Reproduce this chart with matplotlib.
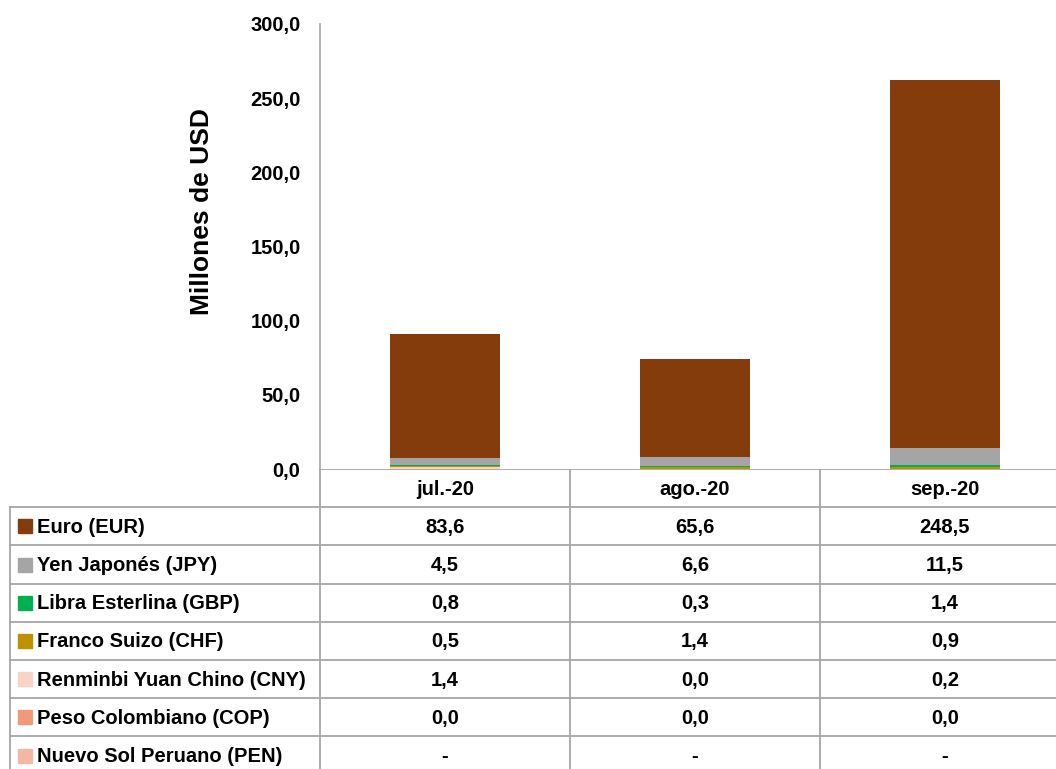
import matplotlib
matplotlib.use("Agg")
import matplotlib.pyplot as plt
from matplotlib.patches import Rectangle

plt.rcParams['font.family'] = ['Liberation Sans', 'DejaVu Sans']
plt.rcParams['font.weight'] = 'bold'

months = ['jul.-20', 'ago.-20', 'sep.-20']
series = ['Euro (EUR)', 'Yen Japonés (JPY)', 'Libra Esterlina (GBP)', 'Franco Suizo (CHF)',
          'Renminbi Yuan Chino (CNY)', 'Peso Colombiano (COP)', 'Nuevo Sol Peruano (PEN)']
eur = [83.6, 65.6, 248.5]
jpy = [4.5, 6.6, 11.5]
gbp = [0.8, 0.3, 1.4]
chf = [0.5, 1.4, 0.9]
cny = [1.4, 0.0, 0.2]
cop = [0.0, 0.0, 0.0]
pen = [None, None, None]
colors = ['#843C0C', '#A5A5A5', '#00B050', '#BF9000', '#F8D3C6', '#F19A78', '#F4B8A2']

values = [eur, jpy, gbp, chf, cny, cop, pen]

W, H = 1056, 769
fig = plt.figure(figsize=(W / 100, H / 100), dpi=100)
fs = 14.5

# main plot area in pixel positions
x0, x1 = 320, 1070
y_top, y_bot = 24, 469
ax = fig.add_axes([x0 / W, 1 - y_bot / H, (x1 - x0) / W, (y_bot - y_top) / H])

# stack from bottom: PEN, COP, CNY, CHF, GBP, JPY, EUR
bottom = [0.0, 0.0, 0.0]
for vals, col in reversed(list(zip(values, colors))):
    v = [x if x is not None else 0.0 for x in vals]
    ax.bar(range(3), v, 0.44, bottom=bottom, color=col, zorder=3)
    bottom = [b + x for b, x in zip(bottom, v)]

ax.set_xlim(-0.5, 2.5)
ax.set_ylim(0, 300)
ax.set_yticks(range(0, 301, 50))
ax.set_yticklabels([f'{t:.1f}'.replace('.', ',') for t in range(0, 301, 50)], fontsize=fs, fontweight='bold')
ax.tick_params(axis='y', length=0, pad=14)
ax.set_xticks([])
for s in ['top', 'right', 'bottom']:
    ax.spines[s].set_visible(False)
ax.spines['left'].set_color('#A6A6A6')
ax.spines['left'].set_linewidth(1.2)
fig.text(202 / W, 1 - 212 / H, 'Millones de USD', rotation=90, ha='center', va='center',
         fontsize=19, fontweight='bold')

# data table below
tab = fig.add_axes([0, 0, 1, 1], zorder=-1)
tab.set_xlim(0, W)
tab.set_ylim(H, 0)
tab.axis('off')

lc = '#A6A6A6'
row_h = 38.2
head_top = 469
col_w = 250
n_rows = len(series)
rows_top = head_top + row_h
table_bottom = H + 5

# horizontal lines
tab.plot([x0, W], [head_top, head_top], color=lc, lw=1.3)
for i in range(n_rows + 1):
    y = rows_top + i * row_h
    if y < H:
        tab.plot([10, W], [y, y], color=lc, lw=1.3)
# vertical lines
tab.plot([10, 10], [rows_top, table_bottom], color=lc, lw=1.3)
for j in range(3):
    xv = x0 + j * col_w
    tab.plot([xv, xv], [head_top, table_bottom], color=lc, lw=1.3)

for j, m in enumerate(months):
    tab.text(x0 + (j + 0.5) * col_w, head_top + row_h / 2 + 1, m, ha='center', va='center',
             fontsize=fs, fontweight='bold')

for i, (name, vals, col) in enumerate(zip(series, values, colors)):
    yc = rows_top + (i + 0.5) * row_h
    tab.add_patch(Rectangle((18, yc - 7), 14, 14, color=col))
    tab.text(37, yc + 1, name, ha='left', va='center', fontsize=fs, fontweight='bold')
    for j, v in enumerate(vals):
        txt = '-' if v is None else f'{v:.1f}'.replace('.', ',')
        tab.text(x0 + (j + 0.5) * col_w, yc + 1, txt, ha='center', va='center',
                 fontsize=fs, fontweight='bold')

fig.savefig('out.png', dpi=100)
